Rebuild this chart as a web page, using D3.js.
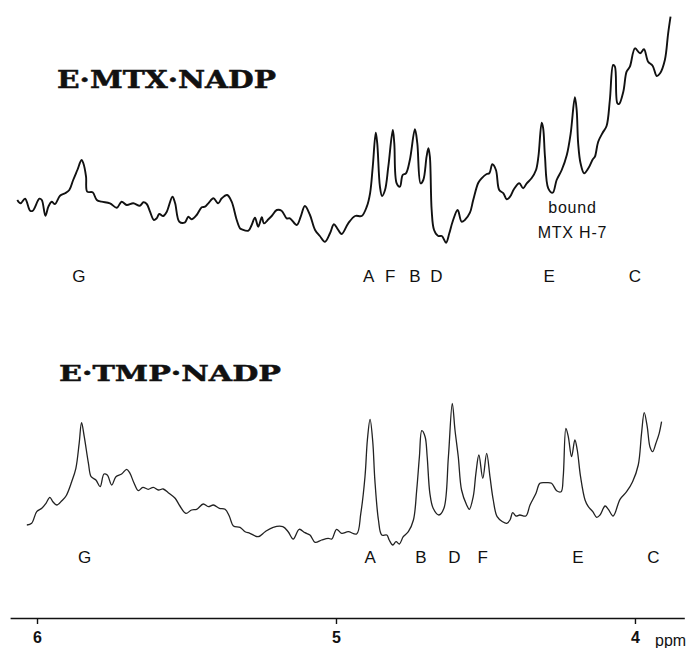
<!DOCTYPE html>
<html>
<head>
<meta charset="utf-8">
<script src="https://cdn.jsdelivr.net/npm/d3@7"></script>
<style>
  html, body { margin: 0; padding: 0; background: #fff; }
  svg { display: block; }
</style>
</head>
<body>
<svg id="chart" width="694" height="648"></svg>
<script>
// ---- Data (chemical shift in ppm, relative intensity in arbitrary units) ----
const mtxPpm = [6.066,6.055,6.040,6.023,6.014,5.992,5.984,5.972,5.962,5.951,5.940,5.923,5.906,5.892,5.879,5.865,5.851,5.845,5.836,5.832,5.814,5.800,5.784,5.756,5.733,5.717,5.700,5.678,5.656,5.644,5.633,5.622,5.609,5.600,5.591,5.578,5.566,5.547,5.538,5.524,5.505,5.494,5.483,5.466,5.449,5.438,5.427,5.410,5.394,5.382,5.364,5.349,5.332,5.321,5.315,5.293,5.282,5.271,5.260,5.248,5.241,5.226,5.215,5.198,5.182,5.165,5.154,5.131,5.118,5.104,5.087,5.070,5.054,5.037,5.020,5.007,4.996,4.981,4.959,4.936,4.914,4.897,4.886,4.877,4.867,4.862,4.853,4.846,4.836,4.825,4.810,4.805,4.797,4.786,4.777,4.766,4.753,4.736,4.728,4.717,4.708,4.697,4.691,4.686,4.680,4.672,4.658,4.646,4.632,4.621,4.610,4.593,4.580,4.569,4.552,4.541,4.524,4.513,4.496,4.487,4.477,4.465,4.454,4.440,4.429,4.418,4.405,4.387,4.374,4.362,4.346,4.331,4.323,4.312,4.307,4.301,4.290,4.275,4.262,4.245,4.228,4.215,4.201,4.195,4.190,4.182,4.170,4.156,4.141,4.134,4.123,4.108,4.095,4.084,4.073,4.067,4.059,4.053,4.039,4.028,4.017,4.000,3.983,3.970,3.956,3.941,3.927,3.916,3.900,3.889,3.881];
const mtxIntensity = [50,46.7,51.3,39.3,39.3,51.3,50,34.3,43.3,48.3,46,54.3,56.7,60,70,80,90,86.7,73.3,58.3,57.7,50,48.3,46.7,42.3,48.3,45,46.7,44.3,47.7,46,38.3,30,31.7,36,34,38.3,53.3,46.7,28.3,27.7,33.3,30.7,35,42.7,43.3,46.7,51.7,46.7,51.7,55,48.3,30,21.7,20.7,19.3,25,32.3,23.3,32.7,26.7,30.7,34,40,39.3,31.7,31.7,25,33.3,44,35,20,14,8.3,16.7,25.7,21.7,16,26.7,34,34,43.3,56.7,83.3,117.3,106.7,63.3,54,60,83.3,120,106.7,66.7,63.3,75,76.7,90,120.7,106.7,66.7,70,93.3,101.7,93.3,40,20,14,14,7.3,16.7,28.3,40,28.3,30,37.3,50,67.3,71.7,76,76.7,85.7,80,60,56.7,50.7,53.3,60.7,66.7,61.7,66.7,71.7,80,93.3,127.3,121.7,93.3,61.7,57.3,70,80,95,116.7,152.7,140,106.7,86.7,76.7,81.7,90.7,93.3,108.3,117.3,124,150,185,183.3,146.7,146,158.3,178.3,183.3,201.7,196.7,200.7,188.3,184.3,174,176.7,190,216.7,233.3];

const tmpPpm = [6.034,6.018,6.001,5.984,5.970,5.957,5.947,5.934,5.917,5.903,5.884,5.870,5.859,5.851,5.842,5.828,5.819,5.803,5.789,5.776,5.765,5.750,5.736,5.717,5.700,5.689,5.676,5.661,5.646,5.628,5.611,5.594,5.578,5.561,5.538,5.522,5.502,5.483,5.466,5.444,5.427,5.410,5.390,5.371,5.357,5.343,5.321,5.304,5.288,5.260,5.237,5.210,5.178,5.160,5.143,5.123,5.104,5.087,5.070,5.048,5.026,5.014,4.998,4.981,4.959,4.931,4.917,4.903,4.895,4.886,4.877,4.870,4.858,4.847,4.830,4.822,4.810,4.799,4.788,4.775,4.758,4.741,4.730,4.721,4.713,4.702,4.695,4.686,4.675,4.656,4.639,4.624,4.611,4.602,4.591,4.580,4.563,4.554,4.541,4.532,4.522,4.509,4.496,4.485,4.474,4.461,4.443,4.429,4.418,4.409,4.398,4.385,4.365,4.351,4.331,4.318,4.298,4.279,4.262,4.247,4.240,4.231,4.223,4.212,4.201,4.193,4.182,4.167,4.156,4.141,4.128,4.117,4.100,4.089,4.073,4.050,4.028,4.008,3.989,3.978,3.969,3.959,3.950,3.941,3.930,3.919,3.911];
const tmpIntensity = [20,21.7,33.3,36.7,41.7,47.7,43.3,40,44.3,49,63.3,76.7,101.7,122.3,108.3,81.7,68.3,65,58.3,71,70,60,68.3,71,75.7,71.7,62.3,54.3,57.7,55.7,57.7,55,56,52.3,46.7,39,31.7,35,35.7,41,38.3,40,36.7,35.7,29,19,17.7,13.3,11.7,8.3,13.3,17.7,18.3,13.3,6,15.7,12.3,10,2.7,5,6.7,6,15.7,11.7,13.3,11,31.7,68.3,105,125.7,103.3,65,25,10,10,5,0,3.3,1,8.3,13.3,25,55,88.3,114.3,108.3,88.3,51.7,36.7,30,36.7,88.3,141.7,115,88.3,55,40,35.7,48.3,71.7,90,66.7,91.7,68.3,45,28.3,23.3,21.7,25,32.3,29,30,29,40,51.7,61.7,62.3,61.7,54.3,53.3,68.3,116.7,108.3,88.3,105,95,68.3,45,38.3,33.3,27.7,30,39,35.7,29,45.7,53.3,63.3,80,111.7,132.3,118.3,98.3,93.3,101.7,111.7,123.3];

const axisTicks = [6, 5, 4];
const axisUnit = "ppm";
const titles = ["E\u00B7MTX\u00B7NADP", "E\u00B7TMP\u00B7NADP"];
const mtxLabels = ["G", "A", "F", "B", "D", "E", "C"];
const mtxLabelPpm = [5.86, 4.891, 4.819, 4.736, 4.664, 4.287, 4.0];
const tmpLabels = ["G", "A", "B", "D", "F", "E", "C"];
const tmpLabelPpm = [5.841, 4.886, 4.716, 4.604, 4.509, 4.191, 3.938];
const annotation = ["bound", "MTX H-7"];
const annotationPpm = 4.209;

// ---- Scales ----
const svg = d3.select("#chart");
const x = d3.scaleLinear().domain([6.09, 3.835]).range([10.1, 684.3]);
const yTop = d3.scaleLinear().domain([0, 240]).range([250, 10]);
const yBot = d3.scaleLinear().domain([0, 150]).range([545, 395]);

const mtxData = mtxPpm.map((p, i) => ({ p, v: mtxIntensity[i] }));
const tmpData = tmpPpm.map((p, i) => ({ p, v: tmpIntensity[i] }));

const lineTop = d3.line().x(d => x(d.p)).y(d => yTop(d.v)).curve(d3.curveCatmullRom.alpha(0.5));
const lineBot = d3.line().x(d => x(d.p)).y(d => yBot(d.v)).curve(d3.curveCatmullRom.alpha(0.5));

svg.append("path").datum(mtxData)
  .attr("d", lineTop).attr("fill", "none")
  .attr("stroke", "#111").attr("stroke-width", 1.9).attr("stroke-linejoin", "round");

svg.append("path").datum(tmpData)
  .attr("d", lineBot).attr("fill", "none")
  .attr("stroke", "#222").attr("stroke-width", 1.3).attr("stroke-linejoin", "round");

// ---- Titles ----
const titleFont = "'DejaVu Serif', 'Liberation Serif', serif";
svg.append("text").text(titles[0])
  .attr("x", 57).attr("y", 88)
  .attr("font-family", titleFont).attr("font-weight", "bold").attr("font-size", 24)
  .attr("textLength", 219).attr("lengthAdjust", "spacingAndGlyphs")
  .attr("fill", "#111").attr("stroke", "#111").attr("stroke-width", 0.5);
svg.append("text").text(titles[1])
  .attr("x", 59).attr("y", 381)
  .attr("font-family", titleFont).attr("font-weight", "bold").attr("font-size", 23)
  .attr("textLength", 222).attr("lengthAdjust", "spacingAndGlyphs")
  .attr("fill", "#111").attr("stroke", "#111").attr("stroke-width", 0.5);

// ---- Peak labels ----
const labelFont = "'Liberation Sans', Arial, Helvetica, sans-serif";
svg.append("g").selectAll("text").data(mtxLabels).join("text")
  .text(d => d)
  .attr("x", (d, i) => x(mtxLabelPpm[i])).attr("y", 282)
  .attr("text-anchor", "middle").attr("font-family", labelFont).attr("font-size", 17).attr("fill", "#111");
svg.append("g").selectAll("text").data(tmpLabels).join("text")
  .text(d => d)
  .attr("x", (d, i) => x(tmpLabelPpm[i])).attr("y", 563)
  .attr("text-anchor", "middle").attr("font-family", labelFont).attr("font-size", 17).attr("fill", "#111");

svg.append("g").selectAll("text").data(annotation).join("text")
  .text(d => d)
  .attr("x", x(annotationPpm)).attr("y", (d, i) => 213 + i * 25)
  .attr("text-anchor", "middle").attr("font-family", labelFont).attr("font-size", 16)
  .attr("letter-spacing", 0.8).attr("fill", "#111");

// ---- Axis ----
const axis = d3.axisBottom(x).tickValues(axisTicks).tickSize(6).tickSizeOuter(0).tickPadding(8)
  .tickFormat(d3.format("d"));
const gAxis = svg.append("g").attr("transform", "translate(0,618)").call(axis);
gAxis.select(".domain").attr("stroke", "#111").attr("stroke-width", 1.6);
gAxis.selectAll(".tick line").attr("stroke", "#111").attr("stroke-width", 1.4);
gAxis.selectAll(".tick text").attr("font-family", labelFont).attr("font-size", 16)
  .attr("font-weight", "bold").attr("fill", "#111");
svg.append("text").text(axisUnit)
  .attr("x", 655).attr("y", 646)
  .attr("font-family", labelFont).attr("font-size", 16).attr("fill", "#111");
</script>
</body>
</html>
